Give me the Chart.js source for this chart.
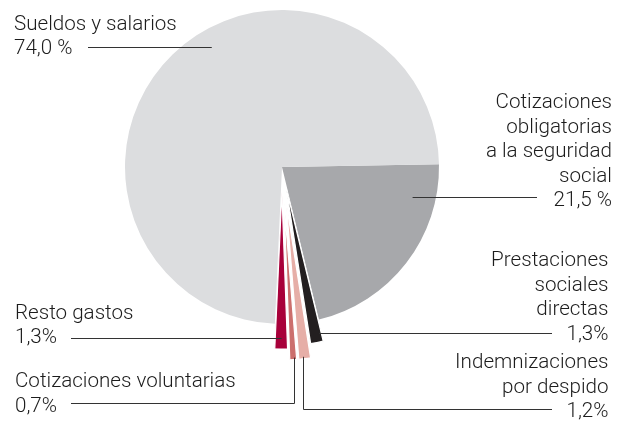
<!DOCTYPE html>
<html lang="es">
<head>
<meta charset="utf-8">
<title>Gastos de personal</title>
<script src="https://cdn.jsdelivr.net/npm/chart.js@4.4.1/dist/chart.umd.min.js"></script>
<style>
  html, body { margin: 0; padding: 0; background: #fff; }
  #wrap { width: 623px; height: 421px; position: relative; }
</style>
</head>
<body>
<div id="wrap"><canvas id="chart-gastos" width="623" height="421"></canvas></div>
<script>
/* ─── Datos ─────────────────────────────────────────────────────────── */
const categories = [
  'Cotizaciones obligatorias a la seguridad social',
  'Prestaciones sociales directas',
  'Indemnizaciones por despido',
  'Cotizaciones voluntarias',
  'Resto gastos',
  'Sueldos y salarios'
];
const shares      = [21.5, 1.3, 1.2, 0.7, 1.3, 74.0];
const shareLabels = ['21,5 %', '1,3%', '1,2%', '0,7%', '1,3%', '74,0 %'];
const labelLines  = [
  ['Cotizaciones', 'obligatorias', 'a la seguridad', 'social'],
  ['Prestaciones', 'sociales', 'directas'],
  ['Indemnizaciones', 'por despido'],
  ['Cotizaciones voluntarias'],
  ['Resto gastos'],
  ['Sueldos y salarios']
];

/* ─── Estilo ────────────────────────────────────────────────────────── */
const colors  = ['#a7a8ab', '#231f20', '#e6aea7', '#cc6f6d', '#a8003a', '#dcdddf'];
// Desplazamiento (px) de los sectores pequeños, sin alargar el radio
const explode = [0, 22, 36, 36, 25, 0];
const borders = [0, 1.2, 1.2, 1.2, 1.2, 0];
const FONT = '300 20.6px Roboto, "Liberation Sans", sans-serif';
const INK  = '#1c1c1c';
const LH   = 24.5;

// Posición de cada rótulo: bloque de texto + punto de anclaje sobre el sector
// anchor: fracción angular dentro del sector y radio desde su centro
const layout = [
  { align: 'right', x: 612,   y: 108,   anchor: [0.18, 134],  leader: 'h', to: 537 },
  { align: 'right', x: 608.5, y: 266,   anchor: [0.15, 148],  leader: 'h', to: 552 },
  { align: 'right', x: 608.5, y: 368,   anchor: [0.59, 155],  leader: 'v', down: 409.5, to: 552 },
  { align: 'left',  x: 15,    y: 387,   anchor: [0.3, 155],   leader: 'v', down: 403.5, to: 71 },
  { align: 'left',  x: 15,    y: 318.5, anchor: [0.46, 146],  leader: 'h', to: 71 },
  { align: 'left',  x: 14,    y: 29.5,  anchor: [0.552, 139], leader: 'h', to: 88 }
];

function pointOn(arc, frac, r) {
  const a = arc.startAngle + frac * (arc.endAngle - arc.startAngle);
  return { x: arc.x + Math.cos(a) * r, y: arc.y + Math.sin(a) * r };
}

/* ─── Sectores separados (explode) ──────────────────────────────────── */
const explodePlugin = {
  id: 'explodePlugin',
  afterDatasetUpdate(chart, args) {
    args.meta.data.forEach((arc, i) => {
      const s = explode[i];
      if (!s) return;
      const mid = (arc.startAngle + arc.endAngle) / 2;
      arc.x += Math.cos(mid) * s;
      arc.y += Math.sin(mid) * s;
    });
  }
};

/* ─── Rótulos y líneas guía ─────────────────────────────────────────── */
const labelsPlugin = {
  id: 'labelsPlugin',
  afterDraw(chart) {
    const ctx = chart.ctx;
    const arcs = chart.getDatasetMeta(0).data;
    ctx.save();
    ctx.font = FONT;
    ctx.fillStyle = INK;
    ctx.textBaseline = 'alphabetic';

    layout.forEach((L, i) => {
      const lines = labelLines[i].concat([shareLabels[i]]);
      ctx.textAlign = L.align;
      lines.forEach((t, k) => ctx.fillText(t, L.x, L.y + k * LH));

      const p = pointOn(arcs[i], L.anchor[0], L.anchor[1]);
      ctx.strokeStyle = '#333';
      ctx.lineWidth = 1;
      ctx.beginPath();
      if (L.leader === 'v') {
        const vx = Math.round(p.x) + 0.5;
        ctx.moveTo(vx, p.y);
        ctx.lineTo(vx, L.down);
        ctx.lineTo(L.to, L.down);
      } else {
        const hy = Math.round(p.y) + 0.5;
        ctx.moveTo(p.x, hy);
        ctx.lineTo(L.to, hy);
      }
      ctx.stroke();
    });
    ctx.restore();
  }
};

/* ─── Gráfico ───────────────────────────────────────────────────────── */
new Chart(document.getElementById('chart-gastos'), {
  type: 'pie',
  data: {
    labels: categories,
    datasets: [{
      data: shares,
      backgroundColor: colors,
      borderColor: '#fff',
      borderWidth: borders
    }]
  },
  options: {
    responsive: false,
    animation: false,
    devicePixelRatio: 1,
    rotation: 89,
    radius: 157,
    events: [],
    layout: { padding: { left: 0, right: 59, top: 0, bottom: 87 } },
    plugins: {
      legend: { display: false },
      tooltip: { enabled: false }
    }
  },
  plugins: [explodePlugin, labelsPlugin]
});
</script>
</body>
</html>
